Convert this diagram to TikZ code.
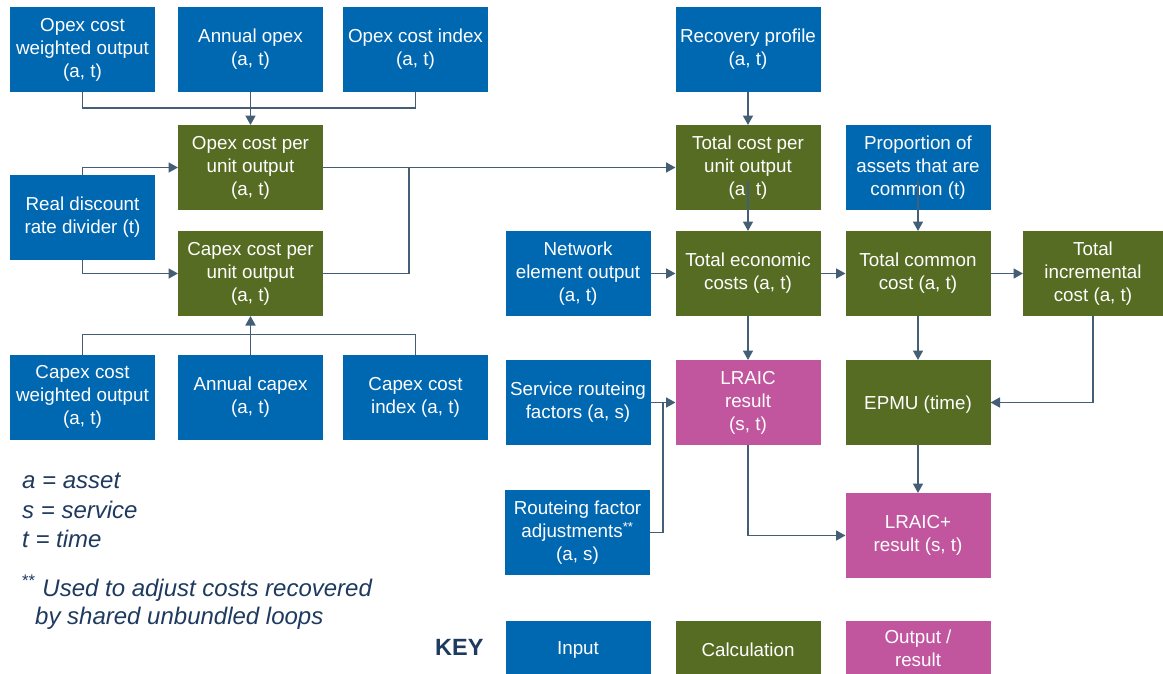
\documentclass[tikz,border=0pt]{standalone}
\usepackage{fontspec}
\setmainfont{Liberation Sans}
\usetikzlibrary{arrows.meta}

\definecolor{inblue}{HTML}{0067B1}
\definecolor{calcgreen}{HTML}{566C23}
\definecolor{outpink}{HTML}{C1559E}
\definecolor{linegrey}{HTML}{445E76}
\definecolor{navytext}{HTML}{1E3A5F}

\tikzset{
  box/.style={draw=none, text=white, align=center, inner sep=0pt, outer sep=0pt,
    minimum width=145pt, minimum height=85pt,
    font=\fontsize{18.8}{23}\selectfont,
    execute at begin node={\rule{0pt}{17.5pt}}},
  inbox/.style={box, fill=inblue},
  calcbox/.style={box, fill=calcgreen},
  outbox/.style={box, fill=outpink},
  conn/.style={draw=linegrey, line width=1.7pt},
  arr/.style={conn, -{Triangle[length=9.5pt,width=10pt]}},
  legend/.style={text=navytext, anchor=base west, inner sep=0pt,
    font=\fontsize{24}{29}\selectfont\itshape},
}

\begin{document}
\begin{tikzpicture}[x=1pt, y=-1pt]
\useasboundingbox (0,0) rectangle (1163,673);

% opex inputs
\node[inbox] (owo) at (82.5,49.5) {Opex cost\\weighted output\\(a, t)};
\node[inbox] (aop) at (250.5,49.5) {Annual opex\\(a, t)};
\node[inbox] (oci) at (415.5,49.5) {Opex cost index\\(a, t)};
\node[inbox] (rp)  at (748,49.5) {Recovery profile\\(a, t)};

% unit cost calculations
\node[calcbox] (ocpu) at (250.5,167.5) {Opex cost per\\unit output\\(a, t)};
\node[inbox]   (rdr)  at (82.5,217.5) {Real discount\\rate divider (t)};
\node[calcbox] (ccpu) at (250.5,273.5) {Capex cost per\\unit output\\(a, t)};
\node[calcbox] (tcpu) at (748,167.5) {Total cost per\\unit output\\(a, t)};
\node[inbox]   (prop) at (918,167.5) {Proportion of\\assets that are\\common (t)};

% cost totals
\node[inbox]   (neo) at (578,273.5) {Network\\element output\\(a, t)};
\node[calcbox] (tec) at (748,273.5) {Total economic\\costs (a, t)};
\node[calcbox] (tcc) at (918,273.5) {Total common\\cost (a, t)};
\node[calcbox, minimum width=140pt] (tic) at (1093,273.5) {Total\\incremental\\cost (a, t)};

% capex inputs
\node[inbox] (cwo)  at (82.5,397) {Capex cost\\weighted output\\(a, t)};
\node[inbox] (acap) at (250.5,397) {Annual capex\\(a, t)};
\node[inbox] (cci)  at (415.5,397) {Capex cost\\index (a, t)};

% results
\node[inbox]   (srf)    at (578,402.5) {Service routeing\\factors (a, s)};
\node[outbox]  (lraic)  at (748,402.5) {LRAIC\\result\\(s, t)};
\node[calcbox] (epmu)   at (918,402.5) {EPMU (time)};
\node[inbox]   (rfa)    at (577.5,532.5) {Routeing factor\\adjustments\textsuperscript{**}\\(a, s)};
\node[outbox]  (lraicp) at (918,535.5) {LRAIC+\\result (s, t)};

% key
\node[anchor=base west, inner sep=0pt, text=navytext,
  font=\fontsize{23.5}{28}\selectfont\bfseries] (keylab) at (435,655) {KEY};
\node[inbox, minimum height=54pt]   (kin)  at (578,648) {Input};
\node[calcbox, minimum height=54pt] (kcal) at (748,648) {Calculation};
\node[outbox, minimum height=54pt]  (kout) at (918,648) {Output /\\result};

% notation
\node[legend] (la) at (22,488) {a = asset};
\node[legend] (ls) at (22,518) {s = service};
\node[legend] (lt) at (22,547) {t = time};
\node[legend] (fn1) at (22,596) {\textsuperscript{\upshape **} Used to adjust costs recovered};
\node[legend] (fn2) at (35,624) {by shared unbundled loops};

% junction points
\coordinate (jcap) at (409,273.5);
\coordinate (jrfa) at (663,402.5);

% connectors
\draw[conn] (owo.south) -- ++(0,16) -| (oci.south);
\draw[arr]  (aop.south) -- (ocpu.north);
\draw[conn] (cwo.north) -- ++(0,-20) -| (cci.north);
\draw[arr]  (acap.north) -- (ccpu.south);
\draw[arr]  (rdr.north) |- (ocpu.west);
\draw[arr]  (rdr.south) |- (ccpu.west);
\draw[arr]  (ocpu.east) -- (tcpu.west);
\draw[conn] (ccpu.east) -- (jcap) |- (ocpu.east);
\draw[arr]  (rp.south) -- (tcpu.north);
\draw[arr]  ([yshift=-13pt]tcpu.center) -- (tec.north);
\draw[arr]  ([yshift=-13pt]prop.center) -- (tcc.north);
\draw[arr]  (neo.east) -- (tec.west);
\draw[arr]  (tec.east) -- (tcc.west);
\draw[arr]  (tcc.east) -- (tic.west);
\draw[arr]  (tec.south) -- (lraic.north);
\draw[arr]  (tcc.south) -- (epmu.north);
\draw[arr]  (tic.south) |- (epmu.east);
\draw[arr]  (srf.east) -- (lraic.west);
\draw[conn] (rfa.east) -| (jrfa);
\draw[arr]  (lraic.south) |- (lraicp.west);
\draw[arr]  (epmu.south) -- (lraicp.north);
\end{tikzpicture}
\end{document}
